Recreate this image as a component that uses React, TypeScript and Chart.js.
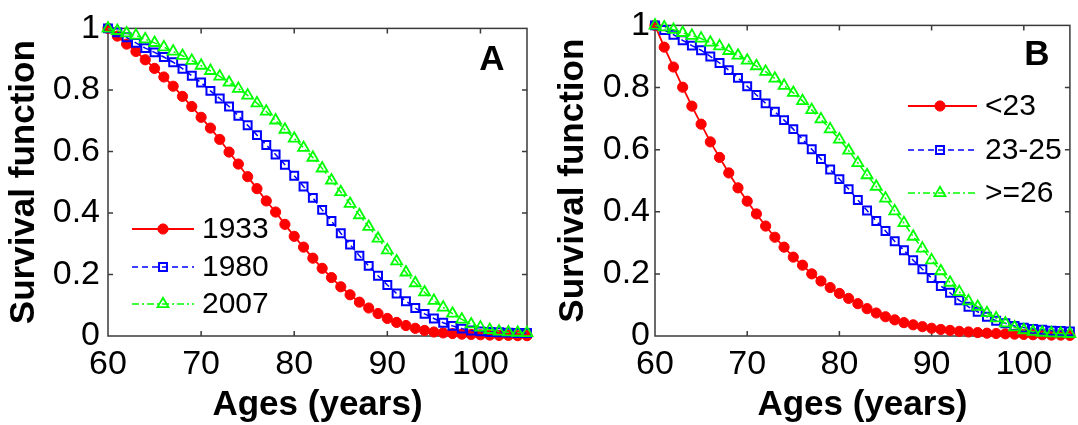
import React, { useEffect, useRef } from 'react';
import { Chart, registerables } from 'chart.js';
import { drawPoint } from 'chart.js/helpers';

Chart.register(...registerables);

// ---------- data ----------
const ages = [60, 61, 62, 63, 64, 65, 66, 67, 68, 69, 70, 71, 72, 73, 74, 75, 76, 77, 78, 79, 80, 81, 82, 83, 84, 85, 86, 87, 88, 89, 90, 91, 92, 93, 94, 95, 96, 97, 98, 99, 100, 101, 102, 103, 104, 105];

const xTickValues = [60, 70, 80, 90, 100];
const yTickValues = [0, 0.2, 0.4, 0.6, 0.8, 1];

// Panel A: birth cohorts
const labelsA = ['1933', '1980', '2007'];
const s1933 = [1.0, 0.975, 0.949, 0.925, 0.898, 0.870, 0.842, 0.812, 0.779, 0.746, 0.711, 0.676, 0.639, 0.598, 0.559, 0.518, 0.479, 0.439, 0.403, 0.363, 0.324, 0.289, 0.253, 0.220, 0.190, 0.160, 0.134, 0.110, 0.091, 0.073, 0.057, 0.044, 0.034, 0.025, 0.018, 0.013, 0.010, 0.008, 0.006, 0.005, 0.004, 0.003, 0.002, 0.002, 0.001, 0.001];
const s1980 = [1.0, 0.987, 0.971, 0.953, 0.936, 0.922, 0.907, 0.890, 0.869, 0.846, 0.824, 0.797, 0.772, 0.746, 0.716, 0.685, 0.653, 0.621, 0.590, 0.557, 0.521, 0.486, 0.449, 0.410, 0.374, 0.334, 0.297, 0.261, 0.228, 0.196, 0.166, 0.138, 0.113, 0.091, 0.072, 0.057, 0.043, 0.033, 0.024, 0.018, 0.015, 0.013, 0.012, 0.011, 0.010, 0.010];
const s2007 = [1.0, 0.992, 0.984, 0.977, 0.965, 0.953, 0.939, 0.925, 0.911, 0.895, 0.879, 0.862, 0.844, 0.824, 0.804, 0.782, 0.757, 0.730, 0.701, 0.671, 0.642, 0.612, 0.580, 0.545, 0.506, 0.468, 0.430, 0.393, 0.355, 0.317, 0.279, 0.243, 0.207, 0.172, 0.142, 0.115, 0.093, 0.073, 0.054, 0.038, 0.028, 0.020, 0.015, 0.012, 0.011, 0.010];

// Panel B: groups
const labelsB = ['<23', '23-25', '>=26'];
const sLt23 = [1.0, 0.930, 0.866, 0.801, 0.740, 0.682, 0.625, 0.575, 0.525, 0.477, 0.434, 0.393, 0.354, 0.318, 0.286, 0.254, 0.228, 0.200, 0.177, 0.156, 0.137, 0.121, 0.104, 0.088, 0.074, 0.062, 0.052, 0.043, 0.036, 0.030, 0.025, 0.021, 0.018, 0.015, 0.013, 0.011, 0.009, 0.008, 0.007, 0.006, 0.005, 0.004, 0.004, 0.003, 0.003, 0.002];
const s23to25 = [1.0, 0.985, 0.970, 0.952, 0.935, 0.920, 0.900, 0.879, 0.856, 0.831, 0.804, 0.776, 0.749, 0.722, 0.695, 0.666, 0.633, 0.601, 0.570, 0.536, 0.505, 0.473, 0.438, 0.404, 0.370, 0.338, 0.305, 0.276, 0.244, 0.215, 0.187, 0.161, 0.139, 0.115, 0.094, 0.078, 0.062, 0.049, 0.041, 0.032, 0.027, 0.023, 0.020, 0.017, 0.016, 0.015];
const sGe26 = [1.0, 0.994, 0.986, 0.976, 0.967, 0.958, 0.945, 0.933, 0.918, 0.903, 0.887, 0.869, 0.851, 0.829, 0.806, 0.783, 0.757, 0.728, 0.698, 0.666, 0.633, 0.597, 0.557, 0.518, 0.481, 0.443, 0.402, 0.364, 0.320, 0.282, 0.244, 0.209, 0.172, 0.142, 0.112, 0.094, 0.074, 0.057, 0.041, 0.028, 0.019, 0.014, 0.011, 0.009, 0.008, 0.007];

// ---------- styles ----------
const FONT = '"Liberation Sans", Arial, Helvetica, sans-serif';
const RED = '#ff0000';
const BLUE = '#0000ff';
const GREEN = '#00ff00';

function seriesStyles() {
  return [
    { color: RED, dash: [] as number[], pointStyle: 'circle', radius: 5.1, fill: RED, pbw: 1, lw: 1.8, order: 3 },
    { color: BLUE, dash: [6, 4], pointStyle: 'rect', radius: 5.6, fill: 'rgba(0,0,0,0)', pbw: 2, lw: 1.5, order: 2 },
    { color: GREEN, dash: [7, 3, 2, 3], pointStyle: 'triangle', radius: 6.3, fill: 'rgba(0,0,0,0)', pbw: 1.8, lw: 1.5, order: 1 },
  ];
}

const framePlugin = {
  id: 'frame',
  beforeDatasetsDraw(chart: any) {
    const { ctx, chartArea: a, scales } = chart;
    ctx.save();
    ctx.strokeStyle = '#3a3a3a';
    ctx.lineWidth = 1.5;
    ctx.setLineDash([]);
    ctx.strokeRect(a.left, a.top, a.right - a.left, a.bottom - a.top);
    const tl = 5;
    ctx.beginPath();
    xTickValues.forEach((v) => {
      const x = scales.x.getPixelForValue(v);
      if (x <= a.left + 1 || x >= a.right - 1) return;
      ctx.moveTo(x, a.bottom);
      ctx.lineTo(x, a.bottom - tl);
      ctx.moveTo(x, a.top);
      ctx.lineTo(x, a.top + tl);
    });
    yTickValues.forEach((v) => {
      const y = scales.y.getPixelForValue(v);
      if (y <= a.top + 1 || y >= a.bottom - 1) return;
      ctx.moveTo(a.left, y);
      ctx.lineTo(a.left + tl, y);
      ctx.moveTo(a.right, y);
      ctx.lineTo(a.right - tl, y);
    });
    ctx.stroke();
    ctx.restore();
  },
  afterDraw(chart: any, _args: any, opts: any) {
    const { ctx, chartArea: a } = chart;
    ctx.save();
    // panel letter
    ctx.fillStyle = '#000';
    ctx.font = `bold 35px ${FONT}`;
    ctx.textAlign = 'center';
    ctx.textBaseline = 'middle';
    ctx.fillText(opts.letter, a.right - opts.letterDx, a.top + opts.letterDy);
    // legend
    const st = seriesStyles();
    chart.data.datasets.forEach((ds: any, i: number) => {
      const s = st[i];
      const y = opts.rows[i];
      ctx.strokeStyle = s.color;
      ctx.lineWidth = s.lw;
      ctx.setLineDash(s.dash);
      ctx.beginPath();
      ctx.moveTo(opts.x1, y);
      ctx.lineTo(opts.x2, y);
      ctx.stroke();
      ctx.setLineDash([]);
      ctx.fillStyle = s.fill;
      ctx.strokeStyle = s.color;
      ctx.lineWidth = s.pbw;
      drawPoint(ctx, { pointStyle: s.pointStyle, radius: s.radius, rotation: 0, borderWidth: s.pbw } as any, opts.xm, y);
      ctx.fillStyle = '#000';
      ctx.font = `30px ${FONT}`;
      ctx.textAlign = 'left';
      ctx.textBaseline = 'middle';
      ctx.fillText(ds.label, opts.xt, y + 1);
    });
    ctx.restore();
  },
};

type PanelParams = {
  labels: string[];
  series: number[][];
  yAxisWidth: number;
  padRight: number;
  yTickPad: number;
  yTitlePad: number;
  letter: string;
  letterDx: number;
  letterDy: number;
  legend: { x1: number; x2: number; xm: number; xt: number; rows: number[] };
};

function makeConfig(p: PanelParams): any {
  const st = seriesStyles();
  const datasets = p.series.map((vals, i) => ({
    label: p.labels[i],
    data: ages.map((a, j) => ({ x: a, y: vals[j] })),
    borderColor: st[i].color,
    borderWidth: st[i].lw,
    borderDash: st[i].dash,
    backgroundColor: st[i].fill,
    pointStyle: st[i].pointStyle,
    pointRadius: st[i].radius,
    pointBorderWidth: st[i].pbw,
    pointBorderColor: st[i].color,
    pointBackgroundColor: st[i].fill,
    tension: 0,
    fill: false,
    clip: false,
    order: st[i].order,
  }));
  return {
    type: 'line',
    data: { datasets },
    options: {
      animation: false,
      responsive: false,
      maintainAspectRatio: false,
      devicePixelRatio: 1,
      layout: { padding: { left: 0, top: 24, right: p.padRight, bottom: 0 } },
      plugins: {
        legend: { display: false },
        tooltip: { enabled: false },
        frame: { letter: p.letter, letterDx: p.letterDx, letterDy: p.letterDy, ...p.legend },
      },
      scales: {
        x: {
          type: 'linear',
          position: 'bottom',
          min: 60,
          max: 105,
          grid: { display: false, drawTicks: false },
          border: { display: false },
          afterBuildTicks: (s: any) => {
            s.ticks = xTickValues.map((v) => ({ value: v }));
          },
          afterFit: (s: any) => {
            s.height = 89;
          },
          ticks: {
            color: '#000',
            font: { family: FONT, size: 34 },
            padding: 8,
            maxRotation: 0,
            autoSkip: false,
            callback: (v: number) => String(v),
          },
          title: {
            display: true,
            text: 'Ages (years)',
            color: '#000',
            font: { family: FONT, size: 35, weight: 'bold', lineHeight: 1 },
            padding: { top: 0, bottom: 2 },
          },
        },
        y: {
          type: 'linear',
          position: 'left',
          min: 0,
          max: 1,
          grid: { display: false, drawTicks: false },
          border: { display: false },
          afterBuildTicks: (s: any) => {
            s.ticks = yTickValues.map((v) => ({ value: v }));
          },
          afterFit: (s: any) => {
            s.width = p.yAxisWidth;
          },
          ticks: {
            color: '#000',
            font: { family: FONT, size: 34 },
            padding: p.yTickPad,
            autoSkip: false,
            callback: (v: number) => (v === 0 ? '0' : v === 1 ? '1' : v.toFixed(1)),
          },
          title: {
            display: true,
            text: 'Survival function',
            color: '#000',
            font: { family: FONT, size: 35, weight: 'bold', lineHeight: 1 },
            padding: { top: p.yTitlePad, bottom: 0 },
          },
        },
      },
    },
    plugins: [framePlugin],
  };
}

function Panel({ left, width, params }: { left: number; width: number; params: PanelParams }) {
  const ref = useRef<HTMLCanvasElement | null>(null);
  useEffect(() => {
    if (!ref.current) return;
    const chart = new Chart(ref.current, makeConfig(params));
    return () => chart.destroy();
  }, []);
  return (
    <canvas
      ref={ref}
      width={width}
      height={425}
      style={{ position: 'absolute', left, top: 0, width, height: 425 }}
    />
  );
}

const panelA: PanelParams = {
  labels: labelsA,
  series: [s1933, s1980, s2007],
  yAxisWidth: 108,
  padRight: 13,
  yTickPad: 8,
  yTitlePad: 7,
  letter: 'A',
  letterDx: 35,
  letterDy: 32,
  legend: { x1: 132, x2: 194, xm: 163, xt: 202, rows: [229, 267, 304] },
};

const panelB: PanelParams = {
  labels: labelsB,
  series: [sLt23, s23to25, sGe26],
  yAxisWidth: 115,
  padRight: 3,
  yTickPad: 5,
  yTitlePad: 16,
  letter: 'B',
  letterDx: 33,
  letterDy: 30,
  legend: { x1: 368, x2: 437, xm: 400, xt: 445, rows: [106, 150, 193] },
};

export default function App() {
  return (
    <div style={{ position: 'absolute', left: 0, top: 0, width: 1078, height: 425, background: '#fff' }}>
      <Panel left={0} width={540} params={panelA} />
      <Panel left={540} width={538} params={panelB} />
    </div>
  );
}
